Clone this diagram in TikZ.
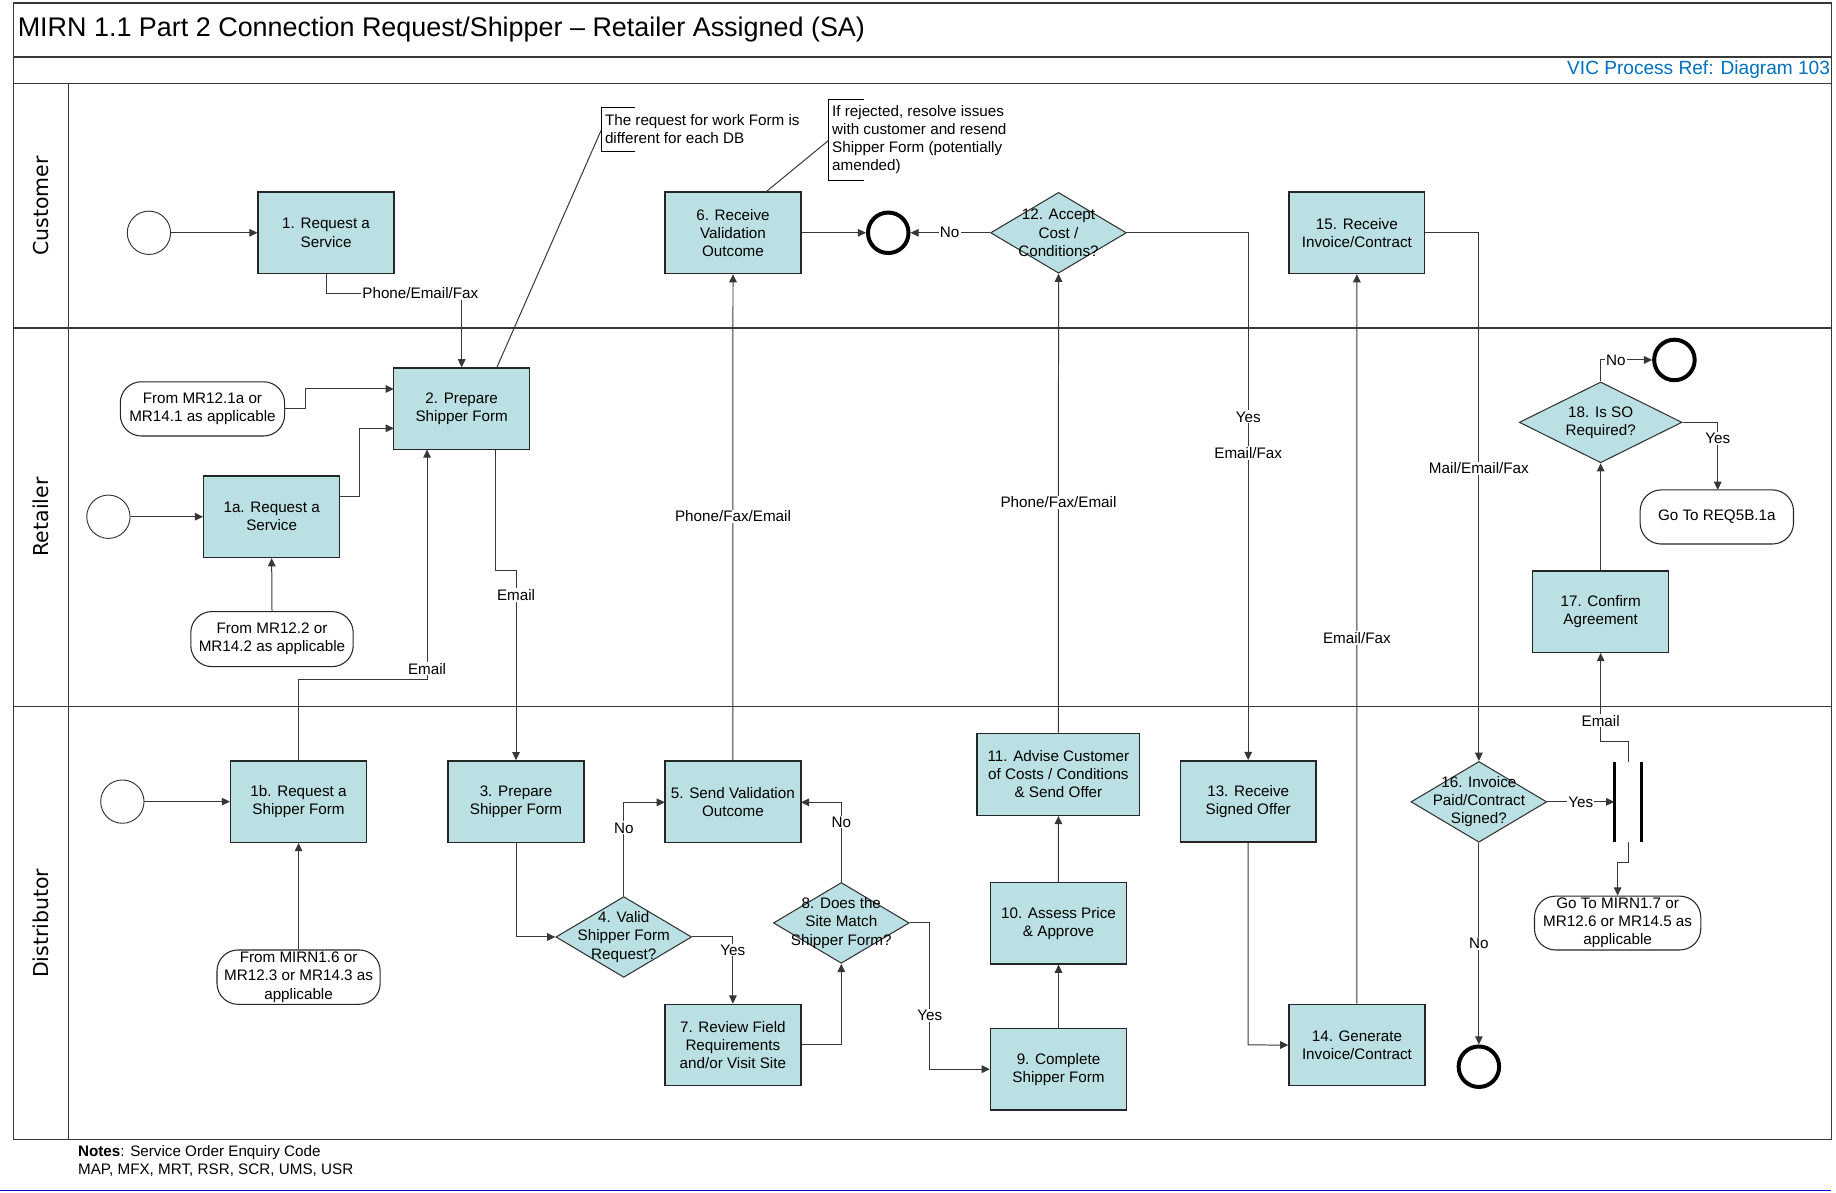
\documentclass[tikz,border=0pt]{standalone}
\usepackage{fontspec}
\setmainfont{Liberation Sans}
\newfontfamily\lanefont{DejaVu Sans}
\usetikzlibrary{arrows.meta,shapes.geometric}
\definecolor{boxc}{RGB}{186,224,227}
\definecolor{framec}{RGB}{55,55,55}
\definecolor{linec}{RGB}{55,55,55}
\definecolor{refblue}{RGB}{0,112,192}
\newcommand\fs{\fontsize{13}{15.5}\selectfont}
\begin{document}
\begin{tikzpicture}[x=1pt,y=-1pt,
 proc/.style={draw=black!85, line width=1.2pt, fill=boxc, minimum width=116pt, minimum height=69.5pt, inner sep=0pt, align=center, font=\fs},
 dec/.style={diamond, draw=black!80, line width=0.9pt, fill=boxc, minimum width=116pt, minimum height=69pt, inner sep=0pt},
 dtext/.style={align=center, font=\fs, inner sep=0pt},
 ext/.style={draw=black!85, line width=0.9pt, fill=white, rounded corners=18pt, inner sep=0pt, align=center, font=\fs},
 startev/.style={circle, draw=black!80, line width=0.8pt, fill=white, minimum size=37pt, inner sep=0pt},
 endev/.style={circle, draw=black, line width=3.4pt, fill=white, minimum size=34.6pt, inner sep=0pt},
 conn/.style={draw=linec, line width=0.85pt},
 arr/.style={conn, -{Triangle[length=7pt,width=6.5pt]}},
 lbl/.style={font=\fs, fill=white, inner sep=1pt},
 annot/.style={font=\fs, align=left, inner sep=0pt, anchor=west},
 lanelbl/.style={font={\lanefont\fontsize{17.5}{20}\selectfont}, rotate=90, inner sep=0pt},
 frame/.style={draw=framec, line width=1.3pt}
]
\useasboundingbox (0,0) rectangle (1568,1018);

% ---- frame ----
\draw[frame] (11.5,2.5) rectangle (1564,973);
\draw[frame] (11.5,48.5) -- (1564,48.5);
\draw[frame] (11.5,71.5) -- (1564,71.5);
\draw[frame] (11.5,280) -- (1564,280);
\draw[frame] (11.5,603.5) -- (1564,603.5);
\draw[frame] (58.6,71.5) -- (58.6,973);

\node[anchor=west, inner sep=0pt, font=\fontsize{23}{27}\selectfont] (title) at (15,25) {MIRN 1.1 Part 2 Connection Request/Shipper -- Retailer Assigned (SA)};
\node[anchor=east, inner sep=0pt, text=refblue, font=\fontsize{16.3}{19}\selectfont] (ref) at (1563,59.5) {VIC Process Ref: Diagram 103};

\node[lanelbl] (lc) at (35,176) {Customer};
\node[lanelbl] (lr) at (35,441.5) {Retailer};
\node[lanelbl] (ld) at (35,788.5) {Distributor};

\node[annot, align=left] (notes) at (66.5,991.5) {\textbf{Notes}: Service Order Enquiry Code\\MAP, MFX, MRT, RSR, SCR, UMS, USR};
\draw[draw=blue!85!black, line width=1pt] (0,1016.8) -- (1564,1016.8);

% ---- Customer lane ----
\node[startev] (s1) at (127.2,198.8) {};
\node[proc] (b1) at (278.5,198.8) {1. Request a\\Service};
\node[proc] (b6) at (626,198.8) {6. Receive\\Validation\\Outcome};
\node[endev] (c1) at (758.6,198.8) {};
\node[dec] (d12) at (904,198.8) {};
\node[dtext] (t12) at (d12) {12. Accept\\Cost /\\Conditions?};
\node[proc] (b15) at (1158.8,198.8) {15. Receive\\Invoice/Contract};

% annotations
\node[annot] (a1) at (516.5,110.5) {The request for work Form is\\different for each DB};
\draw[black, line width=0.7pt] (542,92) -- (513.5,92) -- (513.5,129.5) -- (542,129.5);
\coordinate (a1p) at (513.5,111);
\node[annot] (a2) at (710.5,119) {If rejected, resolve issues\\with customer and resend\\Shipper Form (potentially\\amended)};
\draw[black, line width=0.7pt] (737.5,84.5) -- (707.5,84.5) -- (707.5,153.7) -- (737.5,153.7);
\coordinate (a2p) at (707.5,120);

% ---- Retailer lane ----
\node[ext, minimum width=140.3pt, minimum height=46.3pt] (e1) at (172.9,349.2) {From MR12.1a or\\MR14.1 as applicable};
\node[proc] (b2) at (394.3,349.1) {2. Prepare\\Shipper Form};
\node[startev] (s2) at (92.6,441.3) {};
\node[proc] (b1a) at (232,441.3) {1a. Request a\\Service};
\node[ext, minimum width=138.7pt, minimum height=47pt] (e2) at (232.3,545.8) {From MR12.2 or\\MR14.2 as applicable};
\node[dec, minimum width=139pt] (d18) at (1367,360.7) {};
\node[dtext] (t18) at (d18) {18. Is SO\\Required?};
\node[endev] (c2) at (1430,307.4) {};
\node[ext, minimum width=131pt, minimum height=46.2pt] (e4) at (1466.2,441.5) {Go To REQ5B.1a};
\node[proc] (b17) at (1367,522.3) {17. Confirm\\Agreement};

% ---- Distributor lane ----
\node[startev] (s3) at (104.5,684.6) {};
\node[proc] (b1b) at (255,684.6) {1b. Request a\\Shipper Form};
\node[ext, minimum width=139.4pt, minimum height=46.4pt] (e3) at (255,834.5) {From MIRN1.6 or\\MR12.3 or MR14.3 as\\applicable};
\node[proc] (b3) at (440.7,684.6) {3. Prepare\\Shipper Form};
\node[proc] (b5) at (625.9,684.8) {5. Send Validation\\Outcome};
\node[dec] (d4) at (532.7,800.2) {};
\node[dtext] (t4) at (d4) {4. Valid\\Shipper Form\\Request?};
\node[proc] (b7) at (625.9,892.5) {7. Review Field\\Requirements\\and/or Visit Site};
\node[dec] (d8) at (718.5,788.2) {};
\node[dtext] (t8) at (d8) {8. Does the\\Site Match\\Shipper Form?};
\node[proc] (b9) at (904,913.1) {9. Complete\\Shipper Form};
\node[proc] (b10) at (904,788.4) {10. Assess Price\\\& Approve};
\node[proc, minimum width=139pt, minimum height=70pt] (b11) at (903.9,661.3) {11. Advise Customer\\of Costs / Conditions\\\& Send Offer};
\node[proc] (b13) at (1066,684.5) {13. Receive\\Signed Offer};
\node[proc] (b14) at (1158.9,892.5) {14. Generate\\Invoice/Contract};
\node[dec] (d16) at (1263,684.8) {};
\node[dtext] (t16) at (d16) {16. Invoice\\Paid/Contract\\Signed?};
\node[endev] (c3) at (1263,911) {};
\node[ext, minimum width=142pt, minimum height=46pt] (e5) at (1381.5,788.3) {Go To MIRN1.7 or\\MR12.6 or MR14.5 as\\applicable};

% parallel bars (junction)
\coordinate (barIn) at (1378.6,684.8);
\coordinate (barTop) at (1390.6,650.5);
\coordinate (barBot) at (1390.6,719);
\draw[black, line width=2.3pt] (1378.6,650.5) -- (1378.6,719.3);
\draw[black, line width=2.3pt] (1402,650.5) -- (1402,719.3);

% ---- connectors ----
\draw[arr] (s1) -- (b1);
\draw[arr] (b1.south) -- (278.5,250.5) -- (394.3,250.5) -- (b2.north);
\node[lbl] (l1) at (359,250.5) {Phone/Email/Fax};
\draw[conn] (424,314.5) -- (a1p);
\draw[conn] (654,164) -- (a2p);
\draw[arr] (b6) -- (c1);
\draw[arr] (d12.west) -- (c1.east);
\node[lbl] (l2) at (811,198.8) {No};

\draw[arr] (e1.east) -- (260.5,349.2) -- (260.5,332.2) -- (336.3,332.2);
\draw[arr] (s2) -- (b1a);
\draw[arr] (290,424.2) -- (307,424.2) -- (307,365.8) -- (336.3,365.8);
\draw[arr] (e2.north) -- (b1a.south);
\draw[arr] (b1b.north) -- (255,580) -- (364.7,580) -- (364.7,383.9);
\node[lbl] (l3) at (364.7,571) {Email};
\draw[arr] (423.4,383.9) -- (423.4,487.3) -- (440.7,487.3) -- (b3.north);
\node[lbl] (l4) at (440.7,508) {Email};
\draw[arr] (b5.north) -- (b6.south);
\node[lbl] (l5) at (626,441) {Phone/Fax/Email};

\draw[arr] (s3) -- (b1b);
\draw[arr] (e3.north) -- (b1b.south);
\draw[arr] (b3.south) -- (440.7,800.2) -- (d4.west);
\draw[arr] (d4.north) -- (532.7,685.2) -- (567.8,685.2);
\node[lbl] (l6) at (532.7,707) {No};
\draw[arr] (d4.east) -- (625.9,800.2) -- (b7.north);
\node[lbl] (l7) at (625.9,811.3) {Yes};
\draw[arr] (683.9,892.4) -- (718.5,892.4) -- (d8.south);
\draw[arr] (d8.north) -- (718.5,685.2) -- (684,685.2);
\node[lbl] (l8) at (718.5,702) {No};
\draw[arr] (d8.east) -- (794,788.2) -- (794,913.1) -- (b9.west);
\node[lbl] (l9) at (794,867.3) {Yes};
\draw[arr] (b9) -- (b10);
\draw[arr] (b10) -- (b11);
\draw[arr] (b11.north) -- (d12.south);
\node[lbl] (l10) at (904,429) {Phone/Fax/Email};
\draw[arr] (d12.east) -- (1066,198.8) -- (b13.north);
\node[lbl] (l11) at (1066,356) {Yes};
\node[lbl] (l12) at (1066,387) {Email/Fax};
\draw[arr] (b13.south) -- (1066,892.4) -- (b14.west);
\draw[arr] (b14.north) -- (b15.south);
\node[lbl] (l13) at (1158.8,545) {Email/Fax};
\draw[arr] (b15.east) -- (1263,198.8) -- (d16.north);
\node[lbl] (l14) at (1263,400) {Mail/Email/Fax};
\draw[arr] (d16.south) -- (c3.north);
\node[lbl] (l15) at (1263,806) {No};
\draw[arr] (d16.east) -- (barIn);
\node[lbl] (l16) at (1350,684.8) {Yes};
\draw[arr] (barTop) -- (1390.6,633.4) -- (1367,633.4) -- (b17.south);
\node[lbl] (l17) at (1367,615.5) {Email};
\draw[arr] (barBot) -- (1390.6,736.7) -- (1381.5,736.7) -- (e5.north);
\draw[arr] (b17.north) -- (d18.south);
\draw[arr] (d18.north) -- (1367,307.4) -- (c2.west);
\node[lbl] (l18) at (1380,307.4) {No};
\draw[arr] (d18.east) -- (1467,360.7) -- (1467,418.4);
\node[lbl] (l19) at (1467,374.3) {Yes};
\end{tikzpicture}
\end{document}
